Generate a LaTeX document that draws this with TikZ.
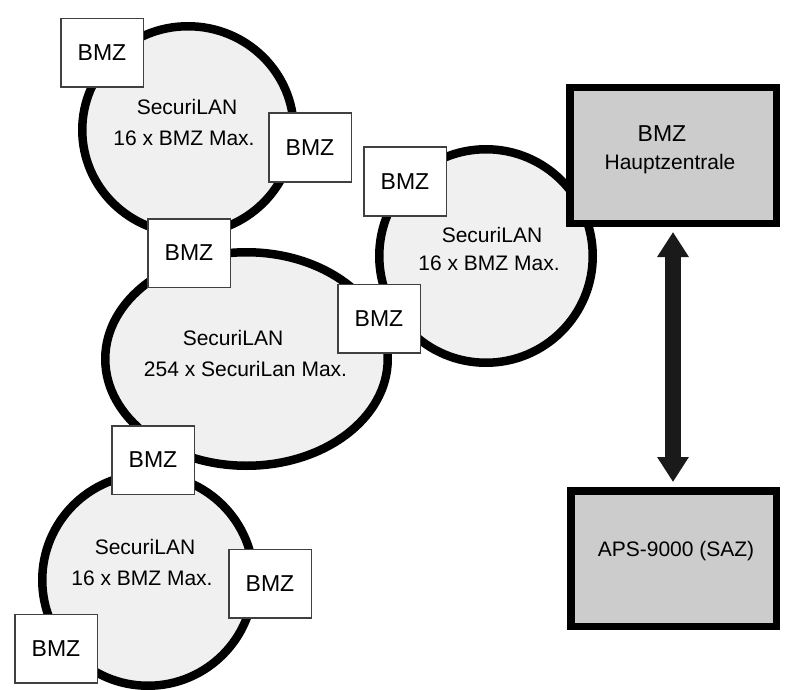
\documentclass[tikz,border=0pt]{standalone}
\usepackage{fontspec}
\setmainfont{Liberation Sans}
\usetikzlibrary{arrows.meta,shapes.geometric}
\definecolor{ringfill}{HTML}{F0F0F0}
\definecolor{boxfill}{HTML}{CCCCCC}
\definecolor{arrowcol}{HTML}{1A1A1A}
\definecolor{bmzline}{HTML}{404040}
\tikzset{
 ring/.style={ellipse, draw=black, fill=ringfill, line width=8.5pt, inner sep=0pt},
 bmz/.style={draw=bmzline, fill=white, line width=1.5pt, minimum width=82.5pt, minimum height=68.5pt, inner sep=0pt, font=\fontsize{23}{27}\selectfont},
 central/.style={draw=black, fill=boxfill, line width=7.5pt, inner sep=0pt},
 ringtext/.style={anchor=base, inner sep=0pt, font=\fontsize{21}{25}\selectfont},
 bigtext/.style={anchor=base, inner sep=0pt, font=\fontsize{23}{27}\selectfont},
 bitip/.style={arrowcol, line width=16pt, {Triangle[width=30pt,length=25pt]}-{Triangle[width=30pt,length=25pt]}, shorten <=5pt, shorten >=5pt},
}
\begin{document}
\begin{tikzpicture}[x=1pt,y=-1pt]
\useasboundingbox (0,0) rectangle (790,690);
% rings
\node[ring, minimum width=211.5pt, minimum height=207.5pt] (ring1) at (188,130) {};
\node[ring, minimum width=213.5pt, minimum height=213.5pt] (ring3) at (486,256) {};
\node[ring, minimum width=282.5pt, minimum height=213.5pt] (ring2) at (246.5,359) {};
\node[ring, minimum width=211.5pt, minimum height=211.5pt] (ring4) at (148,580) {};
% central units
\node[central, minimum width=206.5pt, minimum height=135.5pt] (hz) at (673,155.5) {};
\node[central, minimum width=205.5pt, minimum height=135.5pt] (aps) at (673.5,558.5) {};
% BMZ boxes
\node[bmz] (b1) at (102,53) {BMZ};
\node[bmz] (b2) at (310,147.5) {BMZ};
\node[bmz] (b3) at (189,253) {BMZ};
\node[bmz] (b4) at (405,181.5) {BMZ};
\node[bmz] (b5) at (379,318.5) {BMZ};
\node[bmz] (b6) at (153,460) {BMZ};
\node[bmz] (b7) at (270,583.5) {BMZ};
\node[bmz] (b8) at (56,648.5) {BMZ};
% ring texts
\node[ringtext] (t1a) at (187,115) {SecuriLAN};
\node[ringtext] (t1b) at (184,146) {16 x BMZ Max.};
\node[ringtext] (t3a) at (492,242) {SecuriLAN};
\node[ringtext] (t3b) at (489,270) {16 x BMZ Max.};
\node[ringtext] (t2a) at (233,345) {SecuriLAN};
\node[ringtext] (t2b) at (245.5,376) {254 x SecuriLan Max.};
\node[ringtext] (t4a) at (145,554) {SecuriLAN};
\node[ringtext] (t4b) at (142,585) {16 x BMZ Max.};
% central texts
\node[bigtext] (hzt1) at (662,142) {BMZ};
\node[ringtext] (hzt2) at (670,170) {Hauptzentrale};
\node[ringtext] (apst) at (676,556) {APS-9000 (SAZ)};
% arrow
\draw[bitip] (hz.south) -- (hz.south |- aps.north);
\end{tikzpicture}
\end{document}
